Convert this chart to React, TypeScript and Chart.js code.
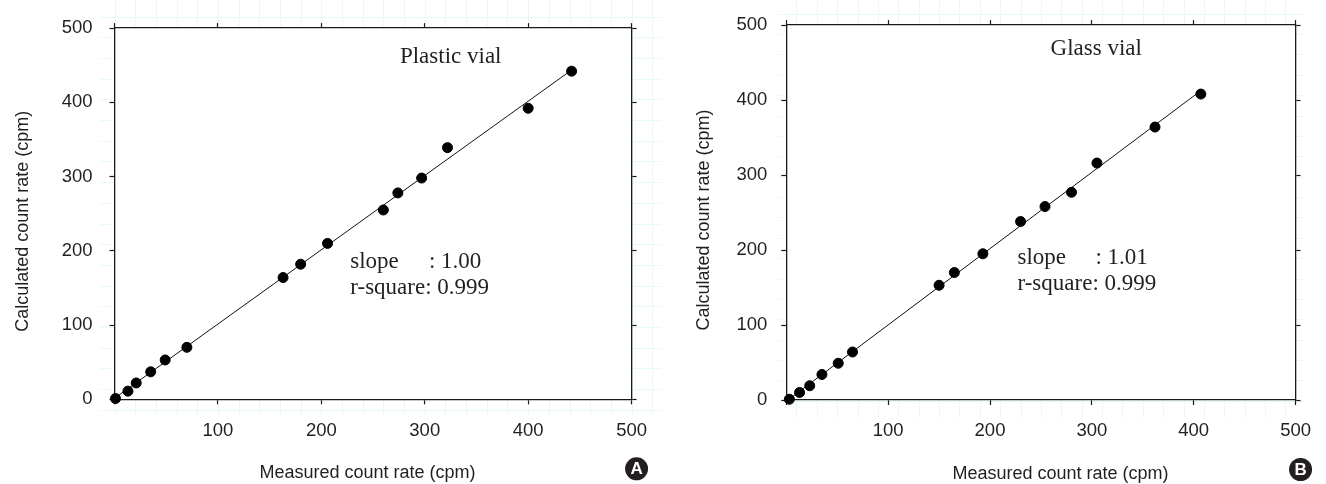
import React, { useEffect, useRef } from "react";
import { Chart, registerables } from "chart.js";

Chart.register(...registerables);

// ---- data ----
const plasticMeasured = [1, 13, 21, 35, 49, 70, 163, 180, 206, 260, 274, 297, 322, 400, 442];
const plasticCalculated = [1, 11, 22, 37, 53, 70, 164, 182, 210, 255, 278, 298, 339, 392, 442];
const glassMeasured = [3, 13, 23, 35, 51, 65, 150, 165, 193, 230, 254, 280, 305, 362, 407];
const glassCalculated = [1, 10, 19, 34, 49, 64, 153, 170, 195, 238, 258, 277, 316, 364, 408];

const plasticSlopeText = "1.00";
const glassSlopeText = "1.01";
const rSquareText = "0.999";

const axisMin = 0;
const axisMax = 500;
const tickStep = 100;

const xTitle = "Measured count rate (cpm)";
const yTitle = "Calculated count rate (cpm)";

const TEXT = "#231f20";
const AXIS = "#1a1a1a";
const SANS = "'Liberation Sans', Arial, sans-serif";
const SERIF = "'Liberation Serif', 'Times New Roman', serif";

function fit(xs: number[], ys: number[]) {
  const n = xs.length;
  const mx = xs.reduce((a, b) => a + b, 0) / n;
  const my = ys.reduce((a, b) => a + b, 0) / n;
  let sxy = 0, sxx = 0;
  for (let i = 0; i < n; i++) {
    sxy += (xs[i] - mx) * (ys[i] - my);
    sxx += (xs[i] - mx) * (xs[i] - mx);
  }
  const m = sxy / sxx;
  const b = my - m * mx;
  const x0 = Math.min(...xs), x1 = Math.max(...xs);
  return [{ x: x0, y: m * x0 + b }, { x: x1, y: m * x1 + b }];
}

const decorPlugin = {
  id: "decor",
  beforeDraw(chart: any, _args: any, o: any) {
    const { ctx, chartArea: a, scales } = chart;
    const xs = scales.x;
    ctx.save();
    const left = a.left - o.paperLeft;
    const right = Math.min(chart.width, a.right + o.paperRight);
    const bottom = a.bottom + o.paperBottom;
    const step = xs.getPixelForValue(20) - xs.getPixelForValue(0);
    ctx.strokeStyle = "#e6fafb";
    ctx.lineWidth = 1;
    ctx.beginPath();
    for (let v = -60; v <= 600; v += 20) {
      const px = Math.round(xs.getPixelForValue(v + o.paperColShift)) + 0.5;
      if (px >= left && px <= right) {
        ctx.moveTo(px, 0);
        ctx.lineTo(px, bottom);
      }
    }
    let start = (a.top - o.paperRowOffset) % step;
    if (start < 0) start += step;
    for (let py = start; py <= bottom; py += step) {
      const y = Math.round(py) + 0.5;
      ctx.moveTo(left, y);
      ctx.lineTo(right, y);
    }
    ctx.stroke();
    ctx.fillStyle = "#ffffff";
    ctx.fillRect(a.left, a.top, a.right - a.left, a.bottom - a.top);
    ctx.restore();
  },
  afterDraw(chart: any, _args: any, o: any) {
    const { ctx, chartArea: a, scales } = chart;
    const xs = scales.x, ys = scales.y;
    ctx.save();
    // panel label + fit statistics
    ctx.fillStyle = TEXT;
    ctx.font = `23px ${SERIF}`;
    ctx.textAlign = "left";
    ctx.textBaseline = "alphabetic";
    ctx.fillText(o.label, xs.getPixelForValue(o.labelAt[0]), ys.getPixelForValue(o.labelAt[1]));
    ctx.fillText("slope", xs.getPixelForValue(o.statsAt[0]), ys.getPixelForValue(o.statsAt[1]));
    ctx.fillText(": " + o.slope, xs.getPixelForValue(o.colonAt), ys.getPixelForValue(o.statsAt[1]));
    ctx.fillText("r-square: " + o.r2, xs.getPixelForValue(o.statsAt[0]), ys.getPixelForValue(o.statsAt[2]));

    // axis titles
    ctx.font = `18px ${SANS}`;
    ctx.textAlign = "center";
    ctx.textBaseline = "middle";
    ctx.fillText(xTitle, (a.left + a.right) / 2 + o.xTitleShift, a.bottom + 74);
    ctx.save();
    ctx.translate(o.yTitleX, (a.top + a.bottom) / 2 + 7.5);
    ctx.rotate(-Math.PI / 2);
    ctx.fillText(yTitle, 0, 0);
    ctx.restore();

    // badge
    const bx = a.right + 5, by = a.bottom + 69.5;
    ctx.beginPath();
    ctx.arc(bx, by, 11.5, 0, Math.PI * 2);
    ctx.fillStyle = "#231f20";
    ctx.fill();
    ctx.fillStyle = "#ffffff";
    ctx.font = `bold 17px ${SANS}`;
    ctx.textAlign = "center";
    ctx.textBaseline = "middle";
    ctx.fillText(o.badge, bx, by + 1);
    ctx.restore();
  },
};

function makeConfig(p: any) {
  const frameGrid = {
    drawOnChartArea: false,
    drawTicks: true,
    tickLength: 5,
    tickColor: AXIS,
    tickWidth: 1.2,
    color: AXIS,
  };
  const border = { display: true, color: AXIS, width: 1.3 };
  const tickFont = { family: SANS, size: 18.5 };
  return {
    type: "scatter",
    data: {
      datasets: [
        {
          type: "line",
          data: fit(p.measured, p.calculated),
          borderColor: "#111",
          borderWidth: 1,
          pointRadius: 0,
          fill: false,
          clip: false,
          order: 2,
        },
        {
          type: "scatter",
          data: p.measured.map((x: number, i: number) => ({ x, y: p.calculated[i] })),
          backgroundColor: "#000",
          borderColor: "#000",
          borderWidth: 1,
          pointRadius: 5,
          clip: false,
          order: 1,
        },
      ],
    },
    options: {
      responsive: false,
      animation: false,
      events: [],
      layout: { padding: 0 },
      plugins: {
        legend: { display: false },
        tooltip: { enabled: false },
        decor: p.decor,
      },
      scales: {
        x: {
          type: "linear",
          position: "bottom",
          min: axisMin,
          max: axisMax,
          ticks: {
            stepSize: tickStep,
            color: TEXT,
            font: tickFont,
            padding: p.xPad,
            maxRotation: 0,
            callback: (v: number) => (v === 0 ? "" : String(v)),
          },
          grid: frameGrid,
          border,
          afterFit: (s: any) => { s.height = p.bottomH; },
        },
        x2: {
          type: "linear",
          position: "top",
          min: axisMin,
          max: axisMax,
          ticks: { stepSize: tickStep, display: false },
          grid: frameGrid,
          border,
          afterFit: (s: any) => { s.height = p.topH; },
        },
        y: {
          type: "linear",
          position: "left",
          min: axisMin,
          max: axisMax,
          ticks: { stepSize: tickStep, color: TEXT, font: tickFont, padding: p.yPad },
          grid: frameGrid,
          border,
          afterFit: (s: any) => { s.width = p.leftW; },
        },
        y2: {
          type: "linear",
          position: "right",
          min: axisMin,
          max: axisMax,
          ticks: { stepSize: tickStep, display: false },
          grid: frameGrid,
          border,
          afterFit: (s: any) => { s.width = p.rightW; },
        },
      },
    },
    plugins: [decorPlugin],
  };
}

function Panel({ params, left }: { params: any; left: number }) {
  const ref = useRef<HTMLCanvasElement | null>(null);
  useEffect(() => {
    if (!ref.current) return;
    const chart = new Chart(ref.current, makeConfig(params) as any);
    return () => chart.destroy();
  }, []);
  return (
    <canvas
      ref={ref}
      width={663}
      height={484}
      style={{ position: "absolute", left, top: 0, width: 663, height: 484 }}
    />
  );
}

const plasticParams = {
  measured: plasticMeasured,
  calculated: plasticCalculated,
  leftW: 114.5,
  rightW: 29.7,
  topH: 22.3,
  bottomH: 84.7,
  xPad: 16,
  yPad: 17,
  decor: {
    label: "Plastic vial",
    labelAt: [276, 453],
    statsAt: [228, 177, 142],
    colonAt: 304,
    slope: plasticSlopeText,
    r2: rSquareText,
    xTitleShift: -5.5,
    yTitleX: 23,
    badge: "A",
    paperLeft: 14,
    paperRight: 30,
    paperBottom: 16,
    paperRowOffset: 11.4,
    paperColShift: 0,
  },
};

const glassParams = {
  measured: glassMeasured,
  calculated: glassCalculated,
  leftW: 123.3,
  rightW: 19.3,
  topH: 23.3,
  bottomH: 84,
  xPad: 15,
  yPad: 14,
  decor: {
    label: "Glass vial",
    labelAt: [259.5, 460.5],
    statsAt: [227, 181.5, 147],
    colonAt: 303.5,
    slope: glassSlopeText,
    r2: rSquareText,
    xTitleShift: 19.5,
    yTitleX: 41,
    badge: "B",
    paperLeft: 8,
    paperRight: 9,
    paperBottom: 18,
    paperRowOffset: 11.4,
    paperColShift: 10,
  },
};

export default function App() {
  return (
    <div style={{ position: "absolute", left: 0, top: 0, width: 1326, height: 484, background: "#fff" }}>
      <Panel params={plasticParams} left={0} />
      <Panel params={glassParams} left={663} />
    </div>
  );
}
